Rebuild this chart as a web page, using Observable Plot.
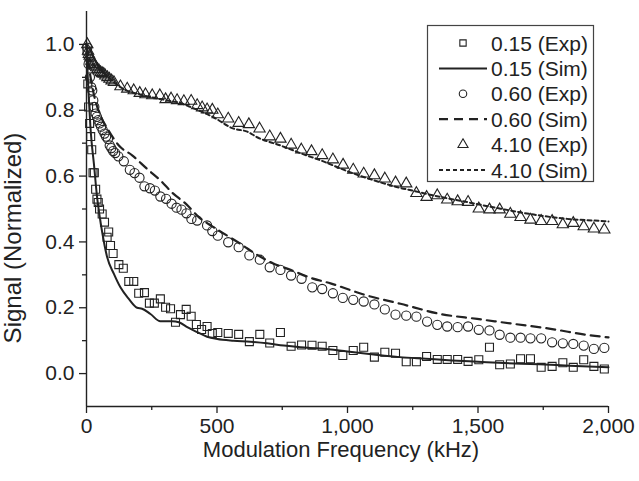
<!DOCTYPE html>
<html>
<head>
<meta charset="utf-8">
<script src="https://cdn.jsdelivr.net/npm/d3@7"></script>
<script src="https://cdn.jsdelivr.net/npm/@observablehq/plot@0.6"></script>
<style>
  html, body { margin: 0; padding: 0; background: #fff; }
  #chart { position: relative; width: 639px; height: 481px; }
</style>
</head>
<body>
<div id="chart"></div>
<script>
// ---- data (kHz, normalized signal) ----
const exp015 = [[2,0.98],[5,0.88],[8,0.81],[12,0.76],[16,0.72],[20,0.68],[25,0.61],[30,0.61],[35,0.56],[40,0.53],[45,0.52],[50,0.50],
  [60,0.485],[69,0.46],[79,0.414],[85,0.43],[92,0.389],[102,0.365],[124,0.331],[141,0.32],[162,0.28],[181,0.28],[200,0.244],[222,0.246],
  [241,0.214],[260,0.214],[283,0.227],[303,0.2015],[322,0.197],[341,0.156],[360,0.179],[382,0.195],[401,0.174],[421,0.149],[441,0.134],
  [462,0.143],[482,0.122],[503,0.125],[543,0.122],[583,0.119],[624,0.097],[664,0.119],[702,0.093],[743,0.125],[784,0.083],
  [824,0.087],[864,0.086],[903,0.083],[944,0.07],[982,0.055],[1022,0.07],[1062,0.08],[1103,0.05],[1143,0.065],[1184,0.062],
  [1225,0.036],[1264,0.036],[1303,0.052],[1344,0.043],[1382,0.043],[1422,0.043],[1462,0.037],[1503,0.042],[1544,0.08],[1583,0.027],
  [1624,0.029],[1663,0.045],[1701,0.045],[1742,0.019],[1784,0.022],[1825,0.033],[1865,0.019],[1905,0.042],[1944,0.022],[1984,0.014]];
const sim015 = [[0,1.0],[5,0.9],[10,0.82],[15,0.75],[20,0.7],[28,0.64],[40,0.54],[50,0.48],[60,0.43],[79,0.354],[105,0.303],[130,0.262],
  [162,0.227],[194,0.2],[213,0.197],[245,0.181],[283,0.159],[328,0.159],[354,0.156],[386,0.141],[424,0.126],[462,0.112],[501,0.105],
  [564,0.1],[628,0.097],[692,0.092],[756,0.085],[820,0.08],[896,0.076],[1000,0.067],[1100,0.058],[1200,0.05],[1300,0.045],[1400,0.04],
  [1500,0.036],[1600,0.032],[1700,0.029],[1800,0.026],[1900,0.022],[2000,0.019]];
const exp060 = [[3,0.99],[8,0.94],[13,0.9],[18,0.87],[22,0.86],[26,0.83],[30,0.81],[35,0.79],[40,0.78],[45,0.77],[50,0.76],[56,0.75],
  [62,0.74],[69,0.729],[75,0.72],[82,0.713],[89,0.693],[95,0.685],[102,0.676],[110,0.67],[122,0.66],[143,0.645],[166,0.619],[184,0.609],
  [203,0.595],[222,0.569],[243,0.563],[262,0.556],[283,0.538],[305,0.531],[326,0.516],[345,0.504],[364,0.498],[383,0.487],[402,0.47],
  [424,0.465],[462,0.45],[482,0.433],[503,0.419],[543,0.399],[583,0.384],[624,0.359],[664,0.346],[702,0.323],[743,0.315],[784,0.298],
  [824,0.288],[865,0.262],[903,0.257],[944,0.244],[982,0.23],[1022,0.224],[1062,0.219],[1103,0.21],[1143,0.195],[1184,0.179],
  [1225,0.176],[1264,0.173],[1305,0.158],[1344,0.148],[1382,0.143],[1422,0.141],[1462,0.143],[1503,0.133],[1544,0.131],[1583,0.118],
  [1624,0.109],[1663,0.109],[1701,0.107],[1742,0.107],[1784,0.095],[1825,0.092],[1865,0.09],[1905,0.085],[1944,0.075],[1984,0.078]];
const sim060 = [[0,1.0],[10,0.93],[25,0.86],[50,0.79],[80,0.745],[124,0.693],[175,0.663],[232,0.622],[283,0.587],[328,0.55],[383,0.514],
  [428,0.477],[482,0.447],[539,0.419],[590,0.394],[647,0.364],[714,0.335],[782,0.315],[858,0.291],[935,0.274],[1075,0.237],[1203,0.212],
  [1356,0.181],[1497,0.166],[1637,0.151],[1778,0.136],[1931,0.116],[2000,0.11]];
const exp410 = [[3,1.0],[6,0.98],[9,0.97],[12,0.965],[15,0.96],[19,0.95],[23,0.945],[27,0.94],[32,0.935],[37,0.93],[42,0.925],[48,0.92],
  [54,0.915],[60,0.912],[66,0.91],[72,0.905],[80,0.9],[88,0.895],[96,0.89],[105,0.885],[130,0.872],[156,0.865],[181,0.86],[204,0.852],
  [226,0.848],[252,0.845],[281,0.845],[303,0.833],[324,0.835],[347,0.83],[373,0.827],[401,0.828],[424,0.815],[443,0.808],[462,0.802],
  [482,0.801],[503,0.787],[543,0.774],[583,0.761],[622,0.757],[663,0.744],[702,0.72],[743,0.713],[784,0.695],[823,0.68],[862,0.675],
  [903,0.663],[944,0.65],[983,0.634],[1022,0.619],[1062,0.607],[1103,0.602],[1143,0.592],[1184,0.58],[1225,0.577],[1264,0.548],
  [1303,0.536],[1344,0.541],[1382,0.528],[1422,0.523],[1462,0.521],[1503,0.501],[1544,0.498],[1583,0.498],[1624,0.485],[1663,0.475],
  [1701,0.467],[1742,0.463],[1784,0.463],[1825,0.453],[1865,0.457],[1905,0.447],[1944,0.44],[1984,0.437]];
const sim410 = [[0,1.0],[10,0.96],[25,0.94],[54,0.921],[90,0.895],[130,0.87],[220,0.845],[309,0.83],[360,0.822],[398,0.81],[488,0.778],
  [564,0.744],[616,0.735],[654,0.718],[743,0.693],[832,0.666],[896,0.648],[999,0.615],[1126,0.581],[1203,0.564],[1254,0.555],
  [1330,0.541],[1458,0.521],[1586,0.501],[1714,0.483],[1841,0.47],[1984,0.463],[2000,0.462]];

const xTicks = [0, 500, 1000, 1500, 2000];
const xMinor = [250, 750, 1250, 1750];
const yTicks = [0, 0.2, 0.4, 0.6, 0.8, 1.0];
const yMinor = [0.1, 0.3, 0.5, 0.7, 0.9];
const legendLabels = ["0.15 (Exp)", "0.15 (Sim)", "0.60 (Exp)", "0.60 (Sim)", "4.10 (Exp)", "4.10 (Sim)"];
const xTitle = "Modulation Frequency (kHz)";
const yTitle = "Signal (Normalized)";

const ink = "#222";
const FONT = "'Liberation Sans', Arial, Helvetica, sans-serif";

const chart = Plot.plot({
  width: 639, height: 481,
  marginLeft: 86, marginRight: 31, marginTop: 11, marginBottom: 75,
  style: { fontFamily: FONT, fontSize: "21px", color: ink, background: "#fff" },
  x: { domain: [0, 2000] },
  y: { domain: [-0.1, 1.1] },
  marks: [
    Plot.axisX({ ticks: xTicks, tickFormat: d3.format(","), tickSize: 7, tickPadding: 5, label: null, fontSize: 21, stroke: ink, strokeWidth: 1.3 }),
    Plot.axisX({ ticks: xMinor, tickFormat: () => "", tickSize: 4, label: null, stroke: ink, strokeWidth: 1.3 }),
    Plot.axisY({ ticks: yTicks, tickFormat: d3.format(".1f"), tickSize: 7, tickPadding: 5, label: null, fontSize: 21, stroke: ink, strokeWidth: 1.3 }),
    Plot.axisY({ ticks: yMinor, tickFormat: () => "", tickSize: 4, label: null, stroke: ink, strokeWidth: 1.3 }),
    Plot.ruleY([-0.1], { stroke: ink, strokeWidth: 1.4 }),
    Plot.ruleX([0], { stroke: ink, strokeWidth: 1.4 }),
    Plot.line(sim015, { x: d => d[0], y: d => d[1], stroke: ink, strokeWidth: 2, curve: "monotone-x" }),
    Plot.line(sim060, { x: d => d[0], y: d => d[1], stroke: ink, strokeWidth: 2.2, strokeDasharray: "9,6", curve: "monotone-x" }),
    Plot.line(sim410, { x: d => d[0], y: d => d[1], stroke: ink, strokeWidth: 2, strokeDasharray: "4,3", curve: "monotone-x" }),
    Plot.dot(exp015, { x: d => d[0], y: d => d[1], symbol: "square", r: 4.5, stroke: ink, strokeWidth: 1.1, fill: "none" }),
    Plot.dot(exp060, { x: d => d[0], y: d => d[1], symbol: "circle", r: 4.6, stroke: ink, strokeWidth: 1.1, fill: "none" }),
    Plot.dot(exp410, { x: d => d[0], y: d => d[1], symbol: "triangle", r: 4.2, stroke: ink, strokeWidth: 1.1, fill: "none" })
  ]
});
document.getElementById("chart").appendChild(chart);

const svg = d3.select(chart);
// axis titles
svg.append("text").attr("x", 341).attr("y", 457).attr("text-anchor", "middle")
  .attr("font-family", FONT).attr("font-size", 22).attr("fill", ink).text(xTitle);
svg.append("text").attr("transform", "translate(21,238) rotate(-90)").attr("text-anchor", "middle")
  .attr("font-family", FONT).attr("font-size", 24).attr("fill", ink).text(yTitle);

// legend
const lg = svg.append("g");
lg.append("rect").attr("x", 427.5).attr("y", 25.5).attr("width", 166).attr("height", 156)
  .attr("fill", "#fff").attr("stroke", "#444").attr("stroke-width", 1.2);
const kinds = [
  { t: "sym", s: d3.symbolSquare, size: 40 },
  { t: "line", dash: null, w: 2 },
  { t: "sym", s: d3.symbolCircle, size: 44 },
  { t: "line", dash: "9,6", w: 2.2 },
  { t: "sym", s: d3.symbolTriangle, size: 44 },
  { t: "line", dash: "4,3", w: 2 }
];
legendLabels.forEach((lab, i) => {
  const cy = 43 + i * 25.4;
  const k = kinds[i];
  if (k.t === "sym") {
    lg.append("path").attr("d", d3.symbol(k.s, k.size)()).attr("transform", `translate(463,${cy})`)
      .attr("fill", "none").attr("stroke", ink).attr("stroke-width", 1.1);
  } else {
    lg.append("line").attr("x1", 439).attr("x2", 487).attr("y1", cy).attr("y2", cy)
      .attr("stroke", ink).attr("stroke-width", k.w).attr("stroke-dasharray", k.dash);
  }
  lg.append("text").attr("x", 491).attr("y", cy + 7.5).attr("text-anchor", "start")
    .attr("font-family", FONT).attr("font-size", 21).attr("fill", ink).text(lab);
});
</script>
</body>
</html>
